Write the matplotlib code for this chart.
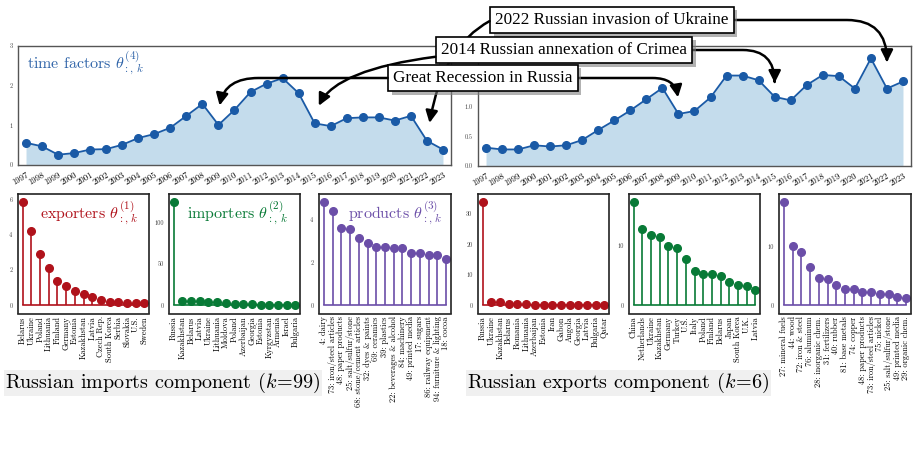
import numpy as np
import matplotlib
matplotlib.use('Agg')
import matplotlib.pyplot as plt
import matplotlib.patheffects as pe

plt.rcParams['font.family'] = 'cmr10'
plt.rcParams['mathtext.fontset'] = 'cm'
plt.rcParams['axes.formatter.use_mathtext'] = True

years = list(range(1997, 2024))

# time factors
imp_time = [0.56, 0.47, 0.26, 0.30, 0.39, 0.40, 0.51, 0.68, 0.78, 0.94, 1.24, 1.54, 1.01,
            1.39, 1.84, 2.05, 2.19, 1.81, 1.05, 0.98, 1.18, 1.20, 1.20, 1.12, 1.24, 0.61, 0.39]
exp_time = [0.31, 0.28, 0.28, 0.35, 0.33, 0.35, 0.44, 0.61, 0.77, 0.94, 1.13, 1.32, 0.88,
            0.93, 1.16, 1.53, 1.53, 1.45, 1.17, 1.11, 1.37, 1.54, 1.52, 1.31, 1.82, 1.31, 1.43]

# imports component (k=99)
imp_exporters = ["Belarus", "Ukraine", "Poland", "Lithuania", "Finland", "Germany", "Estonia",
                 "Kazakhstan", "Latvia", "Czech Rep.", "South Korea", "Serbia", "Slovakia",
                 "U.S.", "Sweden"]
imp_exporters_val = [5.83, 4.21, 2.91, 2.10, 1.40, 1.07, 0.78, 0.61, 0.46, 0.27, 0.21, 0.17,
                     0.15, 0.13, 0.10]
imp_importers = ["Russia", "Kazakhstan", "Belarus", "Latvia", "Ukraine", "Lithuania", "Moldova",
                 "Poland", "Azerbaijan", "Georgia", "Estonia", "Kyrgyzstan", "Armenia",
                 "Israel", "Bulgaria"]
imp_importers_val = [125, 5.7, 5.3, 4.9, 4.1, 3.7, 2.5, 2.0, 1.6, 1.2, 0.8, 0.5, 0.4, 0.35, 0.3]
imp_products = ["4: dairy", "73: iron/steel articles", "48: paper products",
                "25: salt/sulfur/stone", "68: stone/cement articles", "32: dyes & paints",
                "69: ceramics", "39: plastics", "22: beverages & alcohol", "84: machinery",
                "49: printed media", "17: sugars", "86: railway equipment",
                "94: furniture & lighting", "18: cocoa"]
imp_products_val = [4.80, 4.41, 3.61, 3.54, 3.15, 2.90, 2.71, 2.71, 2.68, 2.65, 2.43, 2.43,
                    2.36, 2.35, 2.17]

# exports component (k=6)
exp_exporters = ["Russia", "Ukraine", "Kazakhstan", "Belarus", "Romania", "Lithuania",
                 "Azerbaijan", "Estonia", "Iran", "Gabon", "Angola", "Georgia", "Latvia",
                 "Bulgaria", "Qatar"]
exp_exporters_val = [33.7, 1.2, 1.1, 0.45, 0.35, 0.25, 0.2, 0.18, 0.15, 0.14, 0.13, 0.12,
                     0.11, 0.1, 0.1]
exp_importers = ["China", "Netherlands", "Ukraine", "Kazakhstan", "Germany", "Turkey", "U.S.",
                 "Italy", "Poland", "Finland", "Belarus", "Japan", "South Korea", "U.K.",
                 "Latvia"]
exp_importers_val = [17.3, 12.8, 11.75, 11.4, 9.9, 9.55, 7.85, 5.7, 5.25, 5.25, 4.97, 3.95,
                     3.45, 3.28, 2.54]
exp_products = ["27: mineral fuels", "44: wood", "72: iron & steel", "76: aluminum",
                "28: inorganic chem.", "31: fertilizers", "40: rubber", "81: base metals",
                "74: copper", "48: paper products", "73: iron/steel articles", "75: nickel",
                "25: salt/sulfur/stone", "49: printed media", "29: organic chem."]
exp_products_val = [17.5, 10.1, 8.97, 6.46, 4.69, 4.4, 3.43, 2.8, 2.69, 2.29, 2.17, 1.94,
                    1.89, 1.43, 1.31]

blue = '#1a5aa6'
fill_blue = '#c4dcec'
red = '#b0121b'
green = '#087a36'
purple = '#6b4ea8'

W, H = 918, 468
fig = plt.figure(figsize=(W / 100, H / 100), dpi=100)


def px_axes(x0, x1, y0, y1):
    return fig.add_axes([x0 / W, 1 - y1 / H, (x1 - x0) / W, (y1 - y0) / H])


def frame(ax, c='#333333', lw=1.1):
    for s in ax.spines.values():
        s.set_color(c)
        s.set_linewidth(lw)


def time_panel(ax, vals, ylim, yticks, fmt):
    ax.fill_between(years, vals, color=fill_blue, lw=0)
    ax.plot(years, vals, color=blue, lw=1.3, marker='o', ms=5.5)
    ax.set_xlim(1996.5, 2023.5)
    ax.set_ylim(*ylim)
    ax.set_yticks(yticks)
    ax.set_yticklabels([fmt.format(v) for v in yticks], fontsize=4.5, color='#444444')
    ax.set_xticks(years)
    ax.set_xticklabels([str(y) for y in years], rotation=30, ha='right', va='top',
                       rotation_mode='anchor', fontsize=6.3)
    ax.tick_params(length=0, pad=4)
    frame(ax, '#555555', 1.0)


ax_ti = px_axes(18, 451, 46, 165)
time_panel(ax_ti, imp_time, (0, 3.0), [0, 1, 2, 3], '{:d}')
ax_ti.text(0.02, 0.97, r'time factors $\theta^{(4)}_{:,\,k}$', transform=ax_ti.transAxes,
           ha='left', va='top', color='#2e63a8', fontsize=11.5)

ax_te = px_axes(478, 911, 46, 166)
time_panel(ax_te, exp_time, (0, 2.03), [0, 0.5, 1.0, 1.5, 2.0], '{:.1f}')


def stem_panel(ax, labels, vals, color, yticks, title=None, tx=0.92):
    x = np.arange(len(vals))
    ml, sl, bl = ax.stem(x, vals, basefmt='-')
    ml.set_color(color)
    ml.set_markersize(5.5)
    sl.set_color(color)
    sl.set_linewidth(1.2)
    bl.set_color(color)
    bl.set_linewidth(1.2)
    ax.set_xlim(-0.55, len(vals) - 0.45)
    top = max(vals)
    ax.set_ylim(-0.08 * top, 1.08 * top)
    ax.set_yticks(yticks)
    ax.set_yticklabels([str(v) for v in yticks], fontsize=4.5, color='#444444')
    ax.set_xticks(x)
    ax.set_xticklabels(labels, rotation=90, fontsize=6)
    ax.tick_params(length=0, pad=4)
    ax.tick_params(axis='x', pad=2)
    frame(ax, '#222222', 1.2)
    if title:
        ax.text(tx, 0.95, title, transform=ax.transAxes, ha='right', va='top',
                color=color, fontsize=11.5)


by0, by1 = 194, 313.5
stem_panel(px_axes(18, 149, by0, by1), imp_exporters, imp_exporters_val, red, [0, 2, 4, 6],
           r'exporters $\theta^{(1)}_{:,\,k}$', 0.92)
stem_panel(px_axes(169, 300, by0, by1), imp_importers, imp_importers_val, green, [0, 50, 100],
           r'importers $\theta^{(2)}_{:,\,k}$', 0.91)
stem_panel(px_axes(319, 451, by0, by1), imp_products, imp_products_val, purple, [0, 2, 4],
           r'products $\theta^{(3)}_{:,\,k}$', 0.94)
stem_panel(px_axes(478, 609, by0, by1), exp_exporters, exp_exporters_val, red, [0, 10, 20, 30])
stem_panel(px_axes(629, 760, by0, by1), exp_importers, exp_importers_val, green, [0, 10])
stem_panel(px_axes(779, 911, by0, by1), exp_products, exp_products_val, purple, [0, 10])

fig.text(5 / W, 1 - 383 / H, r'Russian imports component $(k\!=\!99)$', ha='left',
         va='center', fontsize=14.5, bbox=dict(fc='#f0f0f0', ec='none', pad=1))
fig.text(467 / W, 1 - 383 / H, r'Russian exports component $(k\!=\!6)$', ha='left',
         va='center', fontsize=14.5, bbox=dict(fc='#f0f0f0', ec='none', pad=1))

# event annotations on an overlay
ov = fig.add_axes([0, 0, 1, 1], zorder=10)
ov.set_axis_off()
ov.set_xlim(0, W)
ov.set_ylim(H, 0)

# label, year, box centre (px), left-arrow style, left shrink, right-arrow style, right shrink
events = [
    ("2022 Russian invasion of Ukraine", 2022, (612, 20), 'arc3,rad=0.6', 13,
     'angle,angleA=0,angleB=90,rad=40', 19),
    ("2014 Russian annexation of Crimea", 2015, (564, 50), 'angle3,angleA=0,angleB=90', 13,
     'angle,angleA=0,angleB=90,rad=32', 10),
    ("Great Recession in Russia", 2009, (483, 78), 'angle,angleA=0,angleB=90,rad=40', 14,
     'angle,angleA=0,angleB=90,rad=26', 12),
]

for label, yr, pos, csl, shl, csr, shr in events:
    i = years.index(yr)
    a = ov.annotate(label, xy=(yr, exp_time[i]), xycoords=ax_te.transData,
                    xytext=pos, textcoords='data', ha='center', va='center',
                    family='Liberation Serif', fontsize=12.3, annotation_clip=False,
                    bbox=dict(boxstyle='square,pad=0.3', fc='white', ec='black', lw=1.2),
                    arrowprops=dict(arrowstyle='-|>', color='black', lw=1.8,
                                    mutation_scale=18, shrinkA=0, shrinkB=shr,
                                    connectionstyle=csr))
    box = a.get_bbox_patch()
    box.set_path_effects([pe.withSimplePatchShadow(offset=(2.5, -2.5),
                                                   shadow_rgbFace='gray', alpha=0.6)])
    ov.annotate('', xy=(yr, imp_time[i]), xycoords=ax_ti.transData,
                xytext=pos, textcoords='data', annotation_clip=False,
                arrowprops=dict(arrowstyle='-|>', color='black', lw=1.8,
                                mutation_scale=18, shrinkA=0, shrinkB=shl,
                                connectionstyle=csl, patchA=box))

fig.savefig('out.png', dpi=100)
